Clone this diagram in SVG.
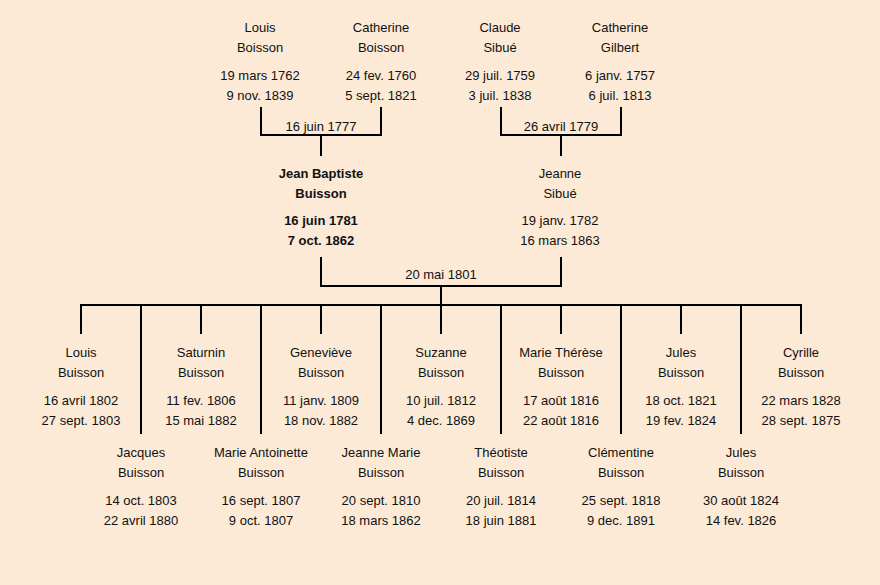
<svg xmlns="http://www.w3.org/2000/svg" width="880" height="585" viewBox="0 0 880 585">
<style>
text{font-family:"Liberation Sans",Arial,sans-serif;font-size:13px;fill:#111;text-anchor:middle}
.b{font-weight:bold}
.ln{stroke:#000;stroke-width:2;fill:none;stroke-linecap:square}
</style>
<rect width="880" height="585" fill="#FCEAD7"/>
<g id="connectors" class="ln">
<path d="M261 108V135H381V108M321 135V155"/>
<path d="M501 108V135H621V108M561 135V155"/>
<path d="M321 258V286H561V258M441 286V305"/>
<path d="M81 305H801"/>
<path d="M81 305V333M201 305V333M321 305V333M441 305V333M561 305V333M681 305V333M801 305V333"/>
<path d="M141 305V433M261 305V433M381 305V433M501 305V433M621 305V433M741 305V433"/>
</g>
<g id="marriage-labels">
<text x="321" y="131">16 juin 1777</text>
<text x="561" y="131">26 avril 1779</text>
<text x="441" y="279">20 mai 1801</text>
</g>
<g id="louis-boisson-sr"><text x="260" y="32">Louis</text><text x="260" y="52">Boisson</text><text x="260" y="80">19 mars 1762</text><text x="260" y="100">9 nov. 1839</text></g>
<g id="catherine-boisson"><text x="381" y="32">Catherine</text><text x="381" y="52">Boisson</text><text x="381" y="80">24 fev. 1760</text><text x="381" y="100">5 sept. 1821</text></g>
<g id="claude-sibue"><text x="500" y="32">Claude</text><text x="500" y="52">Sibué</text><text x="500" y="80">29 juil. 1759</text><text x="500" y="100">3 juil. 1838</text></g>
<g id="catherine-gilbert"><text x="620" y="32">Catherine</text><text x="620" y="52">Gilbert</text><text x="620" y="80">6 janv. 1757</text><text x="620" y="100">6 juil. 1813</text></g>
<g id="jean-baptiste-buisson" class="b"><text class="b" x="321" y="178">Jean Baptiste</text><text class="b" x="321" y="198">Buisson</text><text class="b" x="321" y="225">16 juin 1781</text><text class="b" x="321" y="245">7 oct. 1862</text></g>
<g id="jeanne-sibue"><text x="560" y="178">Jeanne</text><text x="560" y="198">Sibué</text><text x="560" y="225">19 janv. 1782</text><text x="560" y="245">16 mars 1863</text></g>
<g id="louis-buisson"><text x="81" y="357">Louis</text><text x="81" y="377">Buisson</text><text x="81" y="405">16 avril 1802</text><text x="81" y="425">27 sept. 1803</text></g>
<g id="saturnin-buisson"><text x="201" y="357">Saturnin</text><text x="201" y="377">Buisson</text><text x="201" y="405">11 fev. 1806</text><text x="201" y="425">15 mai 1882</text></g>
<g id="genevieve-buisson"><text x="321" y="357">Geneviève</text><text x="321" y="377">Buisson</text><text x="321" y="405">11 janv. 1809</text><text x="321" y="425">18 nov. 1882</text></g>
<g id="suzanne-buisson"><text x="441" y="357">Suzanne</text><text x="441" y="377">Buisson</text><text x="441" y="405">10 juil. 1812</text><text x="441" y="425">4 dec. 1869</text></g>
<g id="marie-therese-buisson"><text x="561" y="357">Marie Thérèse</text><text x="561" y="377">Buisson</text><text x="561" y="405">17 août 1816</text><text x="561" y="425">22 août 1816</text></g>
<g id="jules-buisson-1"><text x="681" y="357">Jules</text><text x="681" y="377">Buisson</text><text x="681" y="405">18 oct. 1821</text><text x="681" y="425">19 fev. 1824</text></g>
<g id="cyrille-buisson"><text x="801" y="357">Cyrille</text><text x="801" y="377">Buisson</text><text x="801" y="405">22 mars 1828</text><text x="801" y="425">28 sept. 1875</text></g>
<g id="jacques-buisson"><text x="141" y="457">Jacques</text><text x="141" y="477">Buisson</text><text x="141" y="505">14 oct. 1803</text><text x="141" y="525">22 avril 1880</text></g>
<g id="marie-antoinette-buisson"><text x="261" y="457">Marie Antoinette</text><text x="261" y="477">Buisson</text><text x="261" y="505">16 sept. 1807</text><text x="261" y="525">9 oct. 1807</text></g>
<g id="jeanne-marie-buisson"><text x="381" y="457">Jeanne Marie</text><text x="381" y="477">Buisson</text><text x="381" y="505">20 sept. 1810</text><text x="381" y="525">18 mars 1862</text></g>
<g id="theotiste-buisson"><text x="501" y="457">Théotiste</text><text x="501" y="477">Buisson</text><text x="501" y="505">20 juil. 1814</text><text x="501" y="525">18 juin 1881</text></g>
<g id="clementine-buisson"><text x="621" y="457">Clémentine</text><text x="621" y="477">Buisson</text><text x="621" y="505">25 sept. 1818</text><text x="621" y="525">9 dec. 1891</text></g>
<g id="jules-buisson-2"><text x="741" y="457">Jules</text><text x="741" y="477">Buisson</text><text x="741" y="505">30 août 1824</text><text x="741" y="525">14 fev. 1826</text></g>
</svg>
